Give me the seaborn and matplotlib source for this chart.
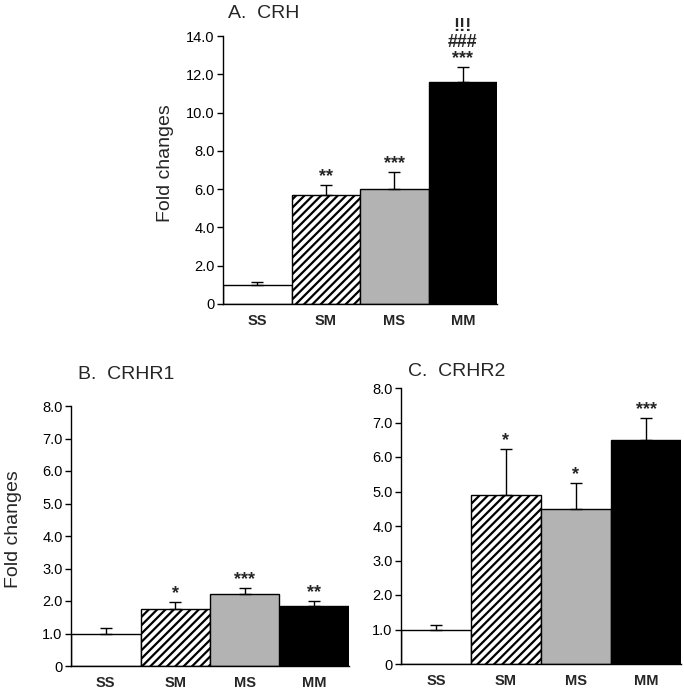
import numpy as np
import matplotlib
matplotlib.use('Agg')
import matplotlib.pyplot as plt
import seaborn as sns

# groups and bar styles
groups = ['SS', 'SM', 'MS', 'MM']
bar_colors = ['white', 'white', '#b3b3b3', 'black']
bar_hatch = ['', '////', '', '']

# A. CRH
crh_mean = [1.0, 5.67, 6.02, 11.59]
crh_sem = [0.14, 0.54, 0.89, 0.78]
crh_marks = ['', '**', '***', '!!!\n###\n***']

# B. CRHR1
crhr1_mean = [1.0, 1.75, 2.21, 1.84]
crhr1_sem = [0.16, 0.21, 0.18, 0.16]
crhr1_marks = ['', '*', '***', '**']

# C. CRHR2
crhr2_mean = [1.0, 4.91, 4.49, 6.48]
crhr2_sem = [0.12, 1.32, 0.76, 0.65]
crhr2_marks = ['', '*', '*', '***']

sns.set_style('white')
plt.rcParams['font.family'] = ['Liberation Sans', 'DejaVu Sans']
plt.rcParams['hatch.linewidth'] = 1.6

fig = plt.figure(figsize=(6.84, 6.91), dpi=100)


def panel(rect, mean, sem, marks, ymax, step, title, title_xy, ylabel=None, label_x=None):
    ax = fig.add_axes(rect)
    sns.barplot(x=groups, y=mean, hue=groups, palette=bar_colors, legend=False,
                width=1.0, edgecolor='black', linewidth=1, ax=ax)
    for p, h in zip(ax.patches, bar_hatch):
        p.set_hatch(h)
    x = np.arange(len(groups))
    ax.errorbar(x, mean, yerr=[np.zeros(len(mean)), sem], fmt='none', ecolor='black',
                elinewidth=1, capsize=4, capthick=1, zorder=5)
    top = np.array(mean) + np.array(sem)
    for xi, yi, m in zip(x, top, marks):
        if m:
            ax.annotate(m, (xi, yi), xytext=(0, 0), textcoords='offset points',
                        ha='center', va='bottom', fontsize=13, fontweight='bold',
                        linespacing=0.95)
    ax.set_xlim(-0.5, 3.5)
    ax.set_ylim(0, ymax)
    ticks = np.arange(0, ymax + step / 2, step)
    ax.set_yticks(ticks)
    ax.set_yticklabels(['0' if t == 0 else f'{t:.1f}' for t in ticks])
    ax.tick_params(axis='y', left=True, length=4, width=1, pad=2, labelsize=10.5, colors='black')
    ax.tick_params(axis='x', bottom=False, length=0, pad=7, labelsize=10.5)
    for lab in ax.get_xticklabels():
        lab.set_fontweight('bold')
    sns.despine(ax=ax)
    for s in ['left', 'bottom']:
        ax.spines[s].set_color('black')
        ax.spines[s].set_linewidth(1)
    if ylabel:
        ax.set_ylabel(ylabel, fontsize=14)
        ax.yaxis.set_label_coords(label_x, 0.525)
    else:
        ax.set_ylabel('')
    fig.text(title_xy[0] / 684, 1 - title_xy[1] / 691, title, fontsize=14,
             ha='left', va='center')
    return ax


panel([223 / 684, 1 - 304 / 691, 274 / 684, 268 / 691], crh_mean, crh_sem, crh_marks,
      14, 2, 'A.  CRH', (228, 14), 'Fold changes', -0.18)
panel([71 / 684, 1 - 666 / 691, 278 / 684, 260 / 691], crhr1_mean, crhr1_sem, crhr1_marks,
      8, 1, 'B.  CRHR1', (78, 374), 'Fold changes', -0.175)
panel([401 / 684, 1 - 664 / 691, 280 / 684, 276 / 691], crhr2_mean, crhr2_sem, crhr2_marks,
      8, 1, 'C.  CRHR2', (408, 372))

fig.savefig('out.png', dpi=100)
